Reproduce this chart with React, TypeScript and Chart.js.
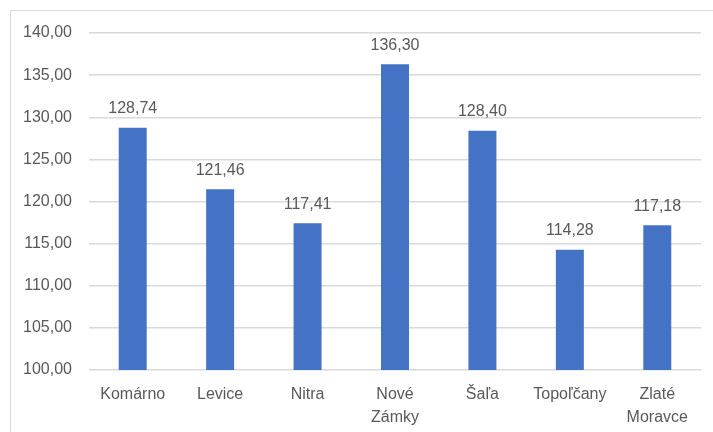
import React, { useEffect, useRef } from "react";
import { Chart, registerables } from "chart.js";

Chart.register(...registerables);

const categories: (string | string[])[] = [
  "Komárno",
  "Levice",
  "Nitra",
  ["Nové", "Zámky"],
  "Šaľa",
  "Topoľčany",
  ["Zlaté", "Moravce"],
];
const values: number[] = [128.74, 121.46, 117.41, 136.3, 128.4, 114.28, 117.18];
const yMin = 100;
const yMax = 140;
const yStep = 5;

const FONT = "'Liberation Sans', Arial, sans-serif";
const TEXT = "#595959";

const fmt = (v: number) => v.toFixed(2).replace(".", ",");

const dataLabels = {
  id: "dataLabels",
  afterDatasetsDraw(chart: any) {
    const ctx = chart.ctx;
    const meta = chart.getDatasetMeta(0);
    ctx.save();
    ctx.font = `16px ${FONT}`;
    ctx.fillStyle = TEXT;
    ctx.textAlign = "center";
    ctx.textBaseline = "bottom";
    meta.data.forEach((bar: any, i: number) => {
      ctx.fillText(fmt(values[i]), bar.x, bar.y - 11);
    });
    ctx.restore();
  },
};

export default function App() {
  const ref = useRef<HTMLCanvasElement | null>(null);
  useEffect(() => {
    if (!ref.current) return;
    const chart = new Chart(ref.current, {
      type: "bar",
      data: {
        labels: categories,
        datasets: [
          {
            data: values,
            backgroundColor: "#4472C4",
            borderWidth: 0,
            categoryPercentage: 1,
            barPercentage: 0.32,
          },
        ],
      },
      options: {
        animation: false,
        responsive: false,
        maintainAspectRatio: false,
        layout: { padding: { left: 0, right: 12, top: 33, bottom: 0 } },
        plugins: {
          legend: { display: false },
          tooltip: { enabled: false },
        },
        scales: {
          x: {
            grid: { display: false },
            border: { display: false },
            ticks: {
              color: TEXT,
              font: { family: FONT, size: 16, lineHeight: 1.45 },
              padding: 5,
              maxRotation: 0,
              autoSkip: false,
            },
            afterFit: (s: any) => {
              s.height = 62;
            },
          },
          y: {
            min: yMin,
            max: yMax,
            grid: { color: "#d9d9d9", lineWidth: 1.5, drawTicks: false },
            border: { display: false },
            ticks: {
              stepSize: yStep,
              color: TEXT,
              font: { family: FONT, size: 16 },
              padding: 17,
              callback: (v: any) => fmt(Number(v)),
            },
            afterFit: (s: any) => {
              s.width = 89;
            },
          },
        },
      },
      plugins: [dataLabels],
    });
    return () => chart.destroy();
  }, []);
  return (
    <div style={{ position: "absolute", left: 0, top: 0, width: 713, height: 432, background: "#fff", overflow: "hidden" }}>
      <div
        style={{
          position: "absolute",
          left: 10,
          top: 10,
          width: 720,
          height: 440,
          border: "1.5px solid #d9d9d9",
          boxSizing: "border-box",
        }}
      />
      <canvas ref={ref} width={713} height={432} style={{ position: "absolute", left: 0, top: 0 }} />
    </div>
  );
}
